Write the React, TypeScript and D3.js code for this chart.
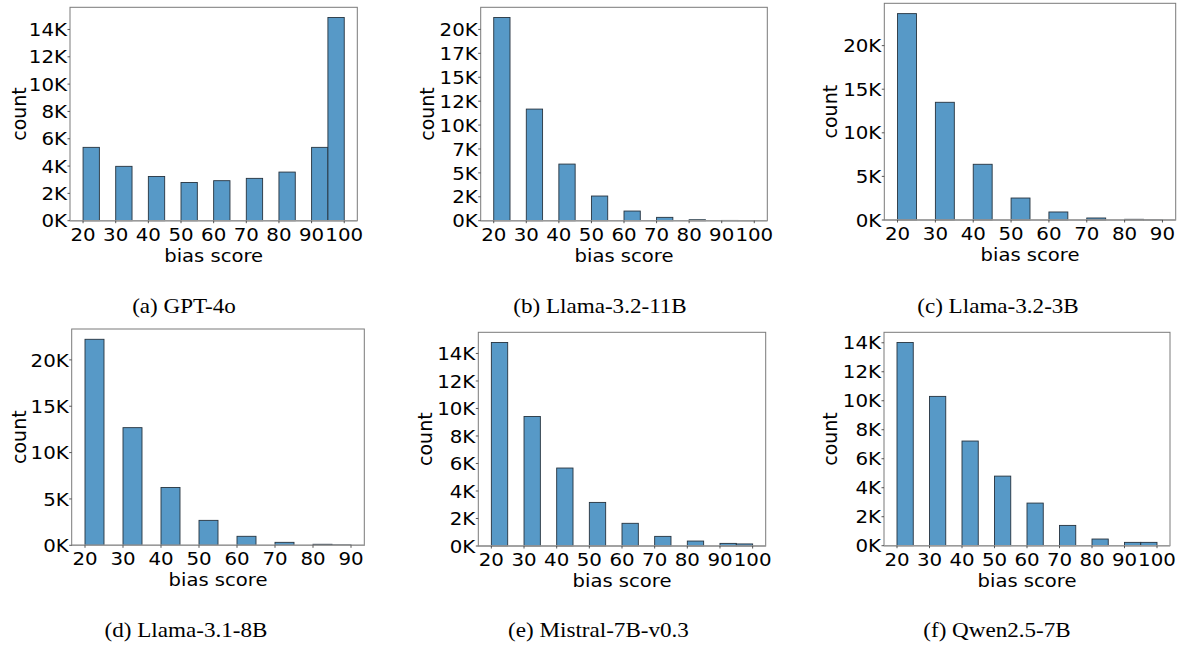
import React from "react";
import * as d3 from "d3";

// ---------- data ----------
const scoresTo100 = [20, 30, 40, 50, 60, 70, 80, 90, 100];
const scoresTo90 = [20, 30, 40, 50, 60, 70, 80, 90];

const countsGPT4o = [5370, 3980, 3240, 2800, 2930, 3100, 3560, 5370, 14880];
const countsLlama32_11B = [21250, 11670, 5920, 2580, 1010, 350, 100, 30, 10];
const countsLlama32_3B = [23670, 13500, 6390, 2520, 920, 230, 80, 10];
const countsLlama31_8B = [22220, 12690, 6240, 2690, 970, 320, 110, 40];
const countsMistral = [14800, 9420, 5670, 3170, 1650, 700, 360, 190, 150];
const countsQwen = [14020, 10300, 7220, 4800, 2940, 1400, 460, 230, 230];

const yTicks2K = [0, 2000, 4000, 6000, 8000, 10000, 12000, 14000];
const yTicks2_5K = [0, 2500, 5000, 7500, 10000, 12500, 15000, 17500, 20000];
const yTicks5K = [0, 5000, 10000, 15000, 20000];

const captions = [
  "(a) GPT-4o",
  "(b) Llama-3.2-11B",
  "(c) Llama-3.2-3B",
  "(d) Llama-3.1-8B",
  "(e) Mistral-7B-v0.3",
  "(f) Qwen2.5-7B",
];

const BIN = 5;

// ---------- layout ----------
const layout = [
  { x0: 70, x1: 357.3, y0: 7.3, y1: 220.7, cx: 184, cy: 313.3, lab: 44 },
  { x0: 480.7, x1: 767.3, y0: 7.3, y1: 220.7, cx: 600, cy: 313.3, lab: 47 },
  { x0: 884.3, x1: 1175.7, y0: 3.3, y1: 220, cx: 998, cy: 313.3, lab: 47.5 },
  { x0: 71.7, x1: 364.3, y0: 329, y1: 545.3, cx: 186, cy: 636.5, lab: 46 },
  { x0: 478.3, x1: 765.7, y0: 332.3, y1: 546, cx: 598.5, cy: 636.5, lab: 46 },
  { x0: 884, x1: 1170, y0: 332.3, y1: 545.7, cx: 997, cy: 636.5, lab: 47 },
];

const panels = [
  { scores: scoresTo100, counts: countsGPT4o, yTicks: yTicks2K },
  { scores: scoresTo100, counts: countsLlama32_11B, yTicks: yTicks2_5K },
  { scores: scoresTo90, counts: countsLlama32_3B, yTicks: yTicks5K },
  { scores: scoresTo90, counts: countsLlama31_8B, yTicks: yTicks5K },
  { scores: scoresTo100, counts: countsMistral, yTicks: yTicks2K },
  { scores: scoresTo100, counts: countsQwen, yTicks: yTicks2K },
];

const SX = 1.1;
const FONT = "'DejaVu Sans', sans-serif";
const SERIF = "'Liberation Serif', 'Times New Roman', serif";
const FILL = "#5799c7";
const EDGE = "#26333f";
const SPINE = "#7a7a7a";

function Panel({ idx }: { idx: number }) {
  const p = panels[idx];
  const L = layout[idx];
  const minS = d3.min(p.scores) as number;
  const maxS = d3.max(p.scores) as number;
  const bins = p.scores.map((s, i) => {
    const lo = s === maxS ? s - BIN : s;
    return { lo, hi: lo + BIN, v: p.counts[i] };
  });
  const range = maxS - minS;
  const x = d3
    .scaleLinear()
    .domain([minS - 0.05 * range, maxS + 0.05 * range])
    .range([L.x0, L.x1]);
  const ymax = (d3.max(p.counts) as number) * 1.05;
  const y = d3.scaleLinear().domain([0, ymax]).range([L.y1, L.y0]);
  const fmt = (v: number) => `${Math.floor(v / 1000)}K`;
  return (
    <g>
      {bins.map((b, i) => (
        <rect
          key={i}
          x={x(b.lo)}
          y={y(b.v)}
          width={x(b.hi) - x(b.lo)}
          height={Math.max(0, y(0) - y(b.v))}
          fill={FILL}
          stroke={EDGE}
          strokeWidth={0.9}
        />
      ))}
      <rect
        x={L.x0}
        y={L.y0}
        width={L.x1 - L.x0}
        height={L.y1 - L.y0}
        fill="none"
        stroke={SPINE}
        strokeWidth={1}
      />
      <line x1={L.x0} x2={L.x1} y1={L.y1} y2={L.y1} stroke="#9a9a9a" strokeWidth={1.6} />
      {p.yTicks.map((t) => (
        <g key={t}>
          <line x1={L.x0 - 2.5} x2={L.x0} y1={y(t)} y2={y(t)} stroke="#444" strokeWidth={0.9} />
          <text
            transform={`translate(${L.x0 - 3},${y(t)}) scale(${SX},1)`}
            textAnchor="end"
            dominantBaseline="central"
            fontFamily={FONT}
            fontSize={18}
            fill="#000"
          >
            {fmt(t)}
          </text>
        </g>
      ))}
      {p.scores.map((s) => (
        <g key={s}>
          <line x1={x(s)} x2={x(s)} y1={L.y1} y2={L.y1 + 2.5} stroke="#444" strokeWidth={0.9} />
          <text
            transform={`translate(${x(s)},${L.y1 + 19.8}) scale(${SX},1)`}
            textAnchor="middle"
            fontFamily={FONT}
            fontSize={18}
            fill="#000"
          >
            {s}
          </text>
        </g>
      ))}
      <text
        transform={`translate(${(L.x0 + L.x1) / 2},${L.y1 + 41}) scale(${SX},1)`}
        textAnchor="middle"
        fontFamily={FONT}
        fontSize={17.8}
        fill="#000"
      >
        bias score
      </text>
      <text
        transform={`translate(${L.x0 - L.lab},${(L.y0 + L.y1) / 2}) rotate(-90)`}
        textAnchor="middle"
        fontFamily={FONT}
        fontSize={19}
        fill="#000"
      >
        count
      </text>
      <text
        transform={`translate(${L.cx},${L.cy}) scale(1.1,1)`}
        textAnchor="middle"
        fontFamily={SERIF}
        fontSize={21}
        fill="#000"
      >
        {captions[idx]}
      </text>
    </g>
  );
}

export default function App() {
  return (
    <svg
      width={1183}
      height={646}
      viewBox="0 0 1183 646"
      style={{ position: "absolute", left: 0, top: 0, background: "#fff" }}
    >
      <rect x={0} y={0} width={1183} height={646} fill="#fff" />
      {panels.map((_, i) => (
        <Panel key={i} idx={i} />
      ))}
    </svg>
  );
}
